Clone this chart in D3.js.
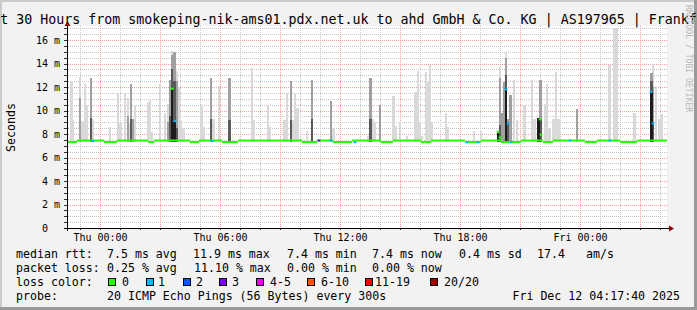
<!DOCTYPE html>
<html>
<head>
<meta charset="utf-8">
<script src="https://cdn.jsdelivr.net/npm/d3@7"></script>
<style>
body { margin: 0; background: #fff; }
svg text { font-family: "DejaVu Sans Mono", monospace; }
</style>
</head>
<body>
<svg id="chart" width="697" height="310"></svg>
<script>
const title = "Last 30 Hours from smokeping-nik-ams01.pdx.net.uk to ahd GmbH & Co. KG | AS197965 | Frankfurt";

// x in hours relative to Thu 00:00
const hourRange = [-1.65, 28.35];
const hourTicks = [0, 6, 12, 18, 24];
const hourLabels = ["Thu 00:00", "Thu 06:00", "Thu 12:00", "Thu 18:00", "Fri 00:00"];
const msMax = 17.2;
const msTicks = [0, 2, 4, 6, 8, 10, 12, 14, 16];
const msLabels = ["0\u00a0\u00a0", "2 m", "4 m", "6 m", "8 m", "10 m", "12 m", "14 m", "16 m"];

// smoke columns: hour, max ping, top of mid band, top of dark band (0 = none)
const smokeHour = [-1.43, -1.35, -1.0, -0.88, -0.75, -0.65, -0.45, -0.35, 0.5, 0.9, 1.02, 1.25, 1.4, 1.48, 1.55, 1.65, 1.75, 2.4, 2.5, 2.6,
  3.0, 3.25, 3.4, 3.5, 3.6, 3.72, 3.85, 3.95, 4.05, 4.17, 5.08, 5.2, 5.55, 5.68, 5.95, 6.48, 7.6, 7.7, 8.4, 8.5,
  9.22, 9.35, 9.55, 9.65, 9.75, 9.88, 10.35, 10.6, 11.55, 11.67, 13.4, 13.52, 13.65, 13.75, 14.0, 14.68, 14.78, 15.0, 15.35, 15.78,
  15.9, 16.0, 16.1, 16.3, 16.4, 16.5, 16.6, 17.3, 17.4, 18.7, 19.05, 19.9, 20.0, 20.1, 20.2, 20.3, 20.4, 20.52, 20.7, 20.85,
  21.22, 21.6, 21.72, 21.92, 22.02, 22.25, 22.35, 22.48, 22.68, 22.8, 22.92, 23.85, 25.48, 25.72, 25.85, 26.72, 27.58, 27.65, 27.8, 27.98, 28.08];
const smokeMax = [12.5, 9.2, 12.9, 9.1, 12.3, 10.5, 12.8, 9.3, 8.6, 11.5, 8.9, 11.5, 11.1, 8.9, 12.3, 9.3, 10.5, 10.7, 10.9, 8.2,
  12.3, 9.8, 10.6, 12.6, 15.1, 15.0, 13.4, 12.0, 9.1, 8.4, 10.5, 8.6, 12.8, 9.3, 12.1, 12.8, 13.6, 9.2, 10.5, 8.6,
  9.2, 11.5, 12.5, 9.2, 11.5, 10.2, 8.3, 12.6, 10.8, 8.5, 7.8, 12.8, 9.3, 9.0, 10.5, 11.2, 8.7, 9.0, 7.8, 11.6,
  13.4, 9.0, 7.8, 13.3, 12.4, 13.9, 9.0, 9.8, 8.6, 8.3, 8.3, 8.1, 13.7, 9.8, 12.4, 14.9, 9.3, 11.3, 12.6, 9.2,
  10.5, 12.6, 9.3, 9.4, 12.6, 10.6, 12.3, 8.5, 9.3, 13.3, 9.3, 10.1, 13.9, 17.0, 17.0, 9.8, 13.2, 14.0, 12.1, 9.3, 9.7];
const smokeMid = [0, 0, 11.1, 0, 0, 0, 12.8, 0, 0, 0, 0, 0, 9.5, 0, 12.3, 9.3, 0, 0, 0, 0,
  0, 0, 9.0, 12.6, 14.7, 15.0, 12.5, 0, 0, 0, 0, 0, 12.8, 0, 0, 12.8, 0, 0, 0, 0,
  0, 0, 12.5, 0, 0, 0, 0, 12.6, 10.8, 0, 0, 12.8, 0, 0, 10.5, 0, 0, 0, 0, 0,
  0, 0, 0, 0, 0, 0, 0, 0, 0, 0, 0, 8.1, 12.8, 9.8, 12.4, 14.5, 9.3, 11.3, 0, 0,
  0, 0, 0, 9.4, 12.6, 0, 0, 0, 0, 0, 0, 10.1, 0, 0, 0, 0, 13.2, 12.0, 0, 0, 0];
const smokeDark = [0, 0, 0, 0, 0, 0, 9.4, 0, 0, 0, 0, 0, 0, 0, 9.3, 0, 0, 0, 0, 0,
  0, 0, 0, 9.5, 13.5, 12.5, 8.5, 0, 0, 0, 0, 0, 9.3, 0, 0, 9.2, 0, 0, 0, 0,
  0, 0, 9.2, 0, 0, 0, 0, 9.3, 0, 0, 0, 9.3, 0, 0, 0, 0, 0, 0, 0, 0,
  0, 0, 0, 0, 0, 0, 0, 0, 0, 0, 0, 8.1, 8.8, 0, 0, 13.0, 9.0, 0, 0, 0,
  0, 0, 0, 9.4, 9.3, 0, 0, 0, 0, 0, 0, 0, 0, 0, 0, 0, 12.5, 9.0, 0, 0, 0];
const blackHour = [3.6, 3.72, 19.9, 20.3, 21.92, 27.58];
const blackTop = [11.8, 9.0, 8.1, 11.9, 9.4, 11.6];
const smokeFloor = 7.35;

// median rtt: normal level with some slightly lower stretches
const medNormal = 7.45;
const medLow = 7.32;
const lowStart = [-1.65, 0.2, 2.4, 4.5, 6.1, 10.1, 11.65, 14.05, 16.05, 18.25, 20.05, 22.15, 24.25, 26.0];
const lowEnd = [-1.15, 0.85, 2.7, 4.95, 6.9, 10.85, 12.6, 14.65, 16.55, 19.05, 21.05, 22.65, 24.85, 26.85];

// median marks with loss or off the base level
const markHour = [-0.35, 3.75, 5.6, 11.55, 12.75, 18.35, 18.9, 20.3, 20.4, 20.55, 23.5, 25.5, 27.55, 27.65, 10.95,
  3.6, 19.9, 20.0, 22.0, 22.05];
const markMs = [7.4, 9.1, 7.4, 7.45, 7.3, 7.3, 7.3, 11.8, 8.9, 7.3, 7.45, 7.45, 11.6, 8.9, 7.45,
  11.85, 8.2, 7.7, 9.25, 7.95];
const markLoss = [1, 1, 1, 1, 1, 1, 1, 1, 1, 1, 1, 1, 1, 1, 3,
  0, 0, 0, 0, 0];

const lossLabels = ["0", "1", "2", "3", "4-5", "6-10", "11-19", "20/20"];
const lossColors = ["#26ff00", "#00b8ff", "#0059ff", "#7e00ff", "#f000f0", "#ff5500", "#ff0000", "#a10000"];

const rttStats = ["7.5 ms avg", "11.9 ms max", "7.4 ms min", "7.4 ms now", "0.4 ms sd", "17.4", "am/s"];
const lossStats = ["0.25 % avg", "11.10 % max", "0.00 % min", "0.00 % now"];
const probeText = "20 ICMP Echo Pings (56 Bytes) every 300s";
const stamp = "Fri Dec 12 04:17:40 2025";

const W = 697, H = 310;
const pL = 67, pR = 667, pT = 26, pB = 228;
const svg = d3.select("#chart");

const x = d3.scaleLinear().domain(hourRange).range([pL, pR]);
const y = d3.scaleLinear().domain([0, msMax]).range([pB, pT]);

// background and frame
svg.append("rect").attr("width", W).attr("height", H).attr("fill", "#f2f2f2");
svg.append("rect").attr("x", 0).attr("y", 0).attr("width", W).attr("height", 2).attr("fill", "#cbcbcb");
svg.append("rect").attr("x", 0).attr("y", 0).attr("width", 2).attr("height", H).attr("fill", "#cbcbcb");
svg.append("rect").attr("x", W - 3).attr("y", 0).attr("width", 3).attr("height", H).attr("fill", "#999");
svg.append("rect").attr("x", 0).attr("y", H - 3).attr("width", W).attr("height", 3).attr("fill", "#999");
svg.append("rect").attr("x", pL).attr("y", pT).attr("width", pR - pL).attr("height", pB - pT).attr("fill", "#fff");

// grid: dotted lines drawn as rows of 1px squares
const hMinor = d3.range(Math.ceil(hourRange[0]), hourRange[1]);
const msMinor = d3.range(0.5, msMax, 0.5).filter(d => d % 2 !== 0);
function dotsV(xs) {
  return xs.map(v => {
    const px = Math.round(x(v));
    return d3.range(pT, pB, 2).map(py => `M${px},${py}h1v1h-1z`).join("");
  }).join("");
}
function dotsH(ys) {
  return ys.map(v => {
    const py = Math.round(y(v));
    return d3.range(pL + 1, pR + 1, 2).map(px => `M${px},${py}h1v1h-1z`).join("");
  }).join("");
}
const grid = svg.append("g").attr("shape-rendering", "crispEdges");
grid.append("path").attr("d", dotsV(hMinor.filter(d => d % 3 !== 0)) + dotsH(msMinor)).attr("fill", "#c6c6c6");
grid.append("path").attr("d", dotsV(hMinor.filter(d => d % 3 === 0)) + dotsH(msTicks.slice(1))).attr("fill", "#ff9a9a");

// smoke
const colW = 2.3;
const smoke = svg.append("g").attr("shape-rendering", "crispEdges");
const layers = [
  { vals: smokeMax, color: "#d9d9d9" },
  { vals: smokeMid, color: "#a0a0a0" },
  { vals: smokeDark, color: "#5a5a5a" }
];
layers.forEach(l => {
  smoke.append("g").selectAll("rect")
    .data(smokeHour.map((h, i) => [h, l.vals[i]]).filter(d => d[1] > 0))
    .join("rect")
    .attr("x", d => x(d[0]) - colW / 2).attr("width", colW)
    .attr("y", d => y(d[1])).attr("height", d => y(smokeFloor) - y(d[1]))
    .attr("fill", l.color);
});
smoke.append("g").selectAll("rect")
  .data(blackHour.map((h, i) => [h, blackTop[i]]))
  .join("rect")
  .attr("x", d => x(d[0]) - colW / 2).attr("width", colW)
  .attr("y", d => y(d[1])).attr("height", d => y(smokeFloor) - y(d[1]))
  .attr("fill", "#1c1c1c");

// median line
const segs = [];
let cur = hourRange[0];
lowStart.forEach((s, i) => {
  if (s > cur) segs.push([cur, s, medNormal]);
  segs.push([s, lowEnd[i], medLow]);
  cur = lowEnd[i];
});
if (cur < hourRange[1]) segs.push([cur, hourRange[1], medNormal]);
const med = svg.append("g");
med.selectAll(".seg").data(segs).join("rect").attr("class", "seg")
  .attr("x", d => x(d[0])).attr("width", d => x(d[1]) - x(d[0]))
  .attr("y", d => y(d[2]) - 1).attr("height", 2)
  .attr("fill", lossColors[0]);
med.selectAll(".mark").data(markHour.map((h, i) => [h, markMs[i], markLoss[i]])).join("rect").attr("class", "mark")
  .attr("x", d => x(d[0]) - 1.4).attr("width", 2.8)
  .attr("y", d => y(d[1]) - 1).attr("height", 2)
  .attr("fill", d => lossColors[d[2]]);

// axes
const yAxis = svg.append("g").attr("transform", `translate(${pL},0)`)
  .call(d3.axisLeft(y).tickValues(msTicks).tickFormat((d, i) => msLabels[i]).tickSize(0).tickPadding(7));
yAxis.select(".domain").remove();
yAxis.selectAll("text").attr("font-family", "DejaVu Sans Mono").attr("font-size", 10).attr("fill", "#000");

const yTicks = svg.append("g").attr("transform", `translate(${pL},0)`)
  .call(d3.axisLeft(y).tickValues(d3.range(0, msMax, 0.5)).tickSize(3).tickFormat(""));
yTicks.select(".domain").remove();
yTicks.selectAll("line").attr("stroke", "#333").attr("shape-rendering", "crispEdges");

const xAxis = svg.append("g").attr("transform", `translate(0,${pB})`)
  .call(d3.axisBottom(x).tickValues(hourTicks).tickFormat((d, i) => hourLabels[i]).tickSize(0).tickPadding(6));
xAxis.select(".domain").remove();
xAxis.selectAll("text").attr("font-family", "DejaVu Sans Mono").attr("font-size", 10).attr("fill", "#000");

const xTicks = svg.append("g").attr("transform", `translate(0,${pB})`)
  .call(d3.axisBottom(x).tickValues(hMinor).tickSize(2).tickFormat(""));
xTicks.select(".domain").remove();
xTicks.selectAll("line").attr("stroke", "#333").attr("shape-rendering", "crispEdges");

svg.append("line").attr("x1", pL + 0.5).attr("x2", pL + 0.5).attr("y1", pB + 3).attr("y2", pT - 1)
  .attr("stroke", "#000").attr("shape-rendering", "crispEdges");
svg.append("line").attr("x1", pL - 3).attr("x2", pR + 3).attr("y1", pB + 0.5).attr("y2", pB + 0.5)
  .attr("stroke", "#000").attr("shape-rendering", "crispEdges");
svg.append("path").attr("d", `M${pL - 2.5},${pT} L${pL + 3.5},${pT} L${pL + 0.5},${pT - 5} Z`).attr("fill", "#8b0000");
svg.append("path").attr("d", `M${pR + 2},${pB - 2.5} L${pR + 2},${pB + 3.5} L${pR + 7},${pB + 0.5} Z`).attr("fill", "#8b0000");

// texts
svg.append("text").attr("x", W / 2).attr("y", 23.5).attr("text-anchor", "middle")
  .attr("font-size", 13.3).text(title);
svg.append("text").attr("transform", "translate(15,127.5) rotate(-90)").attr("text-anchor", "middle")
  .attr("font-size", 11.6).text("Seconds");
svg.append("text").attr("transform", "translate(685.5,5) rotate(90)")
  .attr("font-size", 8.1).attr("fill", "#b8b8b8").text("RRDTOOL / TOBI OETIKER");

const legend = svg.append("g").attr("font-size", 11.6).attr("fill", "#000");
const rowY = [257.5, 271.6, 285.7, 299.8];
const rttX = [107, 193, 287, 372, 459, 537, 586];
const lossX = [107, 194, 287, 372];
legend.append("text").attr("x", 16).attr("y", rowY[0]).text("median rtt:");
legend.selectAll(".rtt").data(rttStats).join("text").attr("class", "rtt")
  .attr("x", (d, i) => rttX[i]).attr("y", rowY[0]).text(d => d);
legend.append("text").attr("x", 16).attr("y", rowY[1]).text("packet loss:");
legend.selectAll(".loss").data(lossStats).join("text").attr("class", "loss")
  .attr("x", (d, i) => lossX[i]).attr("y", rowY[1]).text(d => d);
legend.append("text").attr("x", 16).attr("y", rowY[2]).text("loss color:");
const boxX = [108, 146, 183, 219, 256, 307, 365, 430];
const boxLabelX = [122, 158, 196, 232, 270, 321, 375, 444];
legend.selectAll(".box").data(lossColors).join("rect").attr("class", "box")
  .attr("x", (d, i) => boxX[i] + 0.5).attr("y", 278.5).attr("width", 7).attr("height", 7)
  .attr("fill", d => d).attr("stroke", "#000").attr("stroke-width", 1);
legend.selectAll(".boxlab").data(lossLabels).join("text").attr("class", "boxlab")
  .attr("x", (d, i) => boxLabelX[i]).attr("y", rowY[2]).text(d => d);
legend.append("text").attr("x", 16).attr("y", rowY[3]).text("probe:");
legend.append("text").attr("x", 107).attr("y", rowY[3]).text(probeText);
legend.append("text").attr("x", 680).attr("y", rowY[3]).attr("text-anchor", "end").text(stamp);
</script>
</body>
</html>
